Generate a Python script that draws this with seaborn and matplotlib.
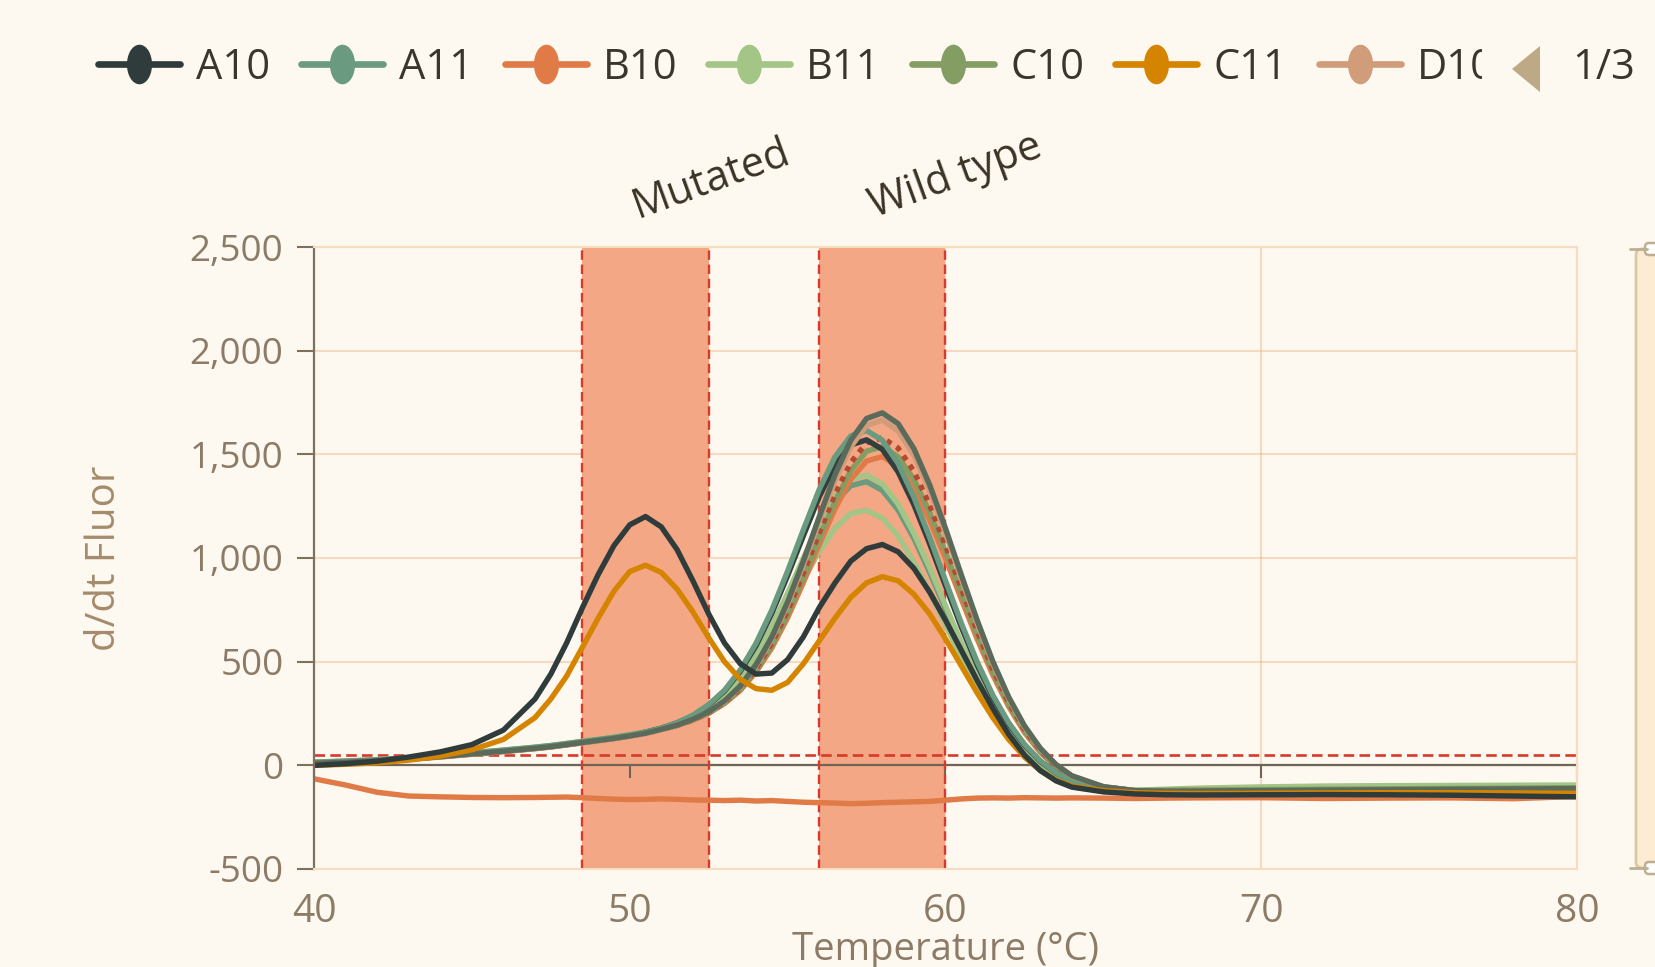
import matplotlib
matplotlib.use("Agg")
import matplotlib.pyplot as plt
import seaborn as sns
from matplotlib.lines import Line2D
from matplotlib.path import Path
from matplotlib.transforms import Affine2D, Bbox, IdentityTransform
from matplotlib.patches import FancyBboxPatch, Polygon
from matplotlib.ticker import FuncFormatter

# ---------------- data ----------------
temperature = [40, 41, 42, 43, 44, 45, 46, 47, 47.5, 48, 48.5, 49, 49.5, 50, 50.5, 51, 51.5,
               52, 52.5, 53, 53.5, 54, 54.5, 55, 55.5, 56, 56.5, 57, 57.5, 58, 58.5, 59, 59.5,
               60, 60.5, 61, 61.5, 62, 62.5, 63, 63.5, 64, 65, 66, 67, 68, 70, 72, 74, 76, 78, 80]

A10 = [0, 8, 20, 40, 65, 100, 170, 320,
       440, 590, 760, 920, 1060, 1160, 1200, 1150, 1040, 890, 730, 590, 490, 440, 445, 510, 620,
       760, 880, 985, 1045, 1065, 1030, 950, 835, 700, 555, 410, 275, 150, 50, -25, -75, -105,
       -128, -138, -142, -143, -142, -141, -142, -144, -148, -152]
C11 = [0, 5, 12, 25, 45, 75, 125, 230,
       320, 430, 570, 710, 840, 935, 965, 930, 850, 740, 615, 500, 415, 370, 362, 400, 490,
       600, 710, 810, 880, 910, 890, 825, 730, 610, 480, 350, 230, 125, 40, -25, -70, -100,
       -122, -132, -135, -136, -135, -133, -132, -132, -133, -135]
B10 = [-65, -95, -130, -148, -152, -155, -156, -155, -154, -153, -156, -160, -163, -165, -164,
       -162, -164, -167, -168, -170, -168, -172, -170, -174, -178, -180, -182, -185, -183, -180,
       -178, -176, -174, -168, -162, -158, -157, -158, -156, -157, -158, -157, -158, -160, -158,
       -157, -156, -160, -158, -157, -161, -150]
D10 = [8, 14, 21, 29, 40, 53, 66, 80, 88, 98, 108, 118, 128, 140, 153,
       174, 194, 221, 257, 308, 379, 479, 610, 775, 969, 1175, 1373, 1536, 1639, 1665,
       1613, 1495, 1324, 1119, 900, 686, 490, 322, 185, 80, 2, -52, -103, -122,
       -126, -125, -124, -122, -120, -118, -116, -114]
C10 = [12, 17, 24, 32, 44, 57, 70, 84, 92, 102, 112, 122, 132, 144, 157,
       173, 193, 219, 253, 301, 366, 458, 578, 729, 906, 1094, 1274, 1422, 1515, 1537,
       1488, 1379, 1220, 1031, 829, 631, 450, 294, 167, 68, -6, -56, -105, -122,
       -120, -119, -117, -115, -113, -111, -110, -108]
A11 = [15, 20, 27, 35, 47, 60, 73, 87, 95, 105, 115, 125, 135, 147,
       161, 179, 206, 241, 293, 362, 460, 589, 749, 937, 1137, 1330, 1488, 1589, 1615,
       1568, 1456, 1293, 1099, 891, 686, 500, 338, 206, 102, 22, -36, -75, -115,
       -125, -126, -125, -123, -121, -119, -117, -115, -113]
B11 = [14, 19, 26, 34, 46, 59, 72, 86, 94, 104, 114, 124, 134, 146,
       160, 177, 202, 234, 280, 341, 425, 535, 672, 831, 1000, 1163, 1296, 1380, 1400,
       1358, 1260, 1119, 952, 771, 594, 432, 291, 174, 81, 10, -43, -79, -116,
       -122, -118, -115, -110, -107, -105, -104, -103, -102]
# series from the other legend pages
D11 = [10, 15, 22, 30, 42, 55, 68, 82, 90, 100, 110, 120, 130, 142, 155,
       174, 194, 222, 258, 311, 382, 485, 619, 788, 986, 1198, 1401, 1568, 1673, 1700,
       1648, 1527, 1352, 1143, 919, 701, 501, 330, 191, 83, 4, -50, -103, -122,
       -125, -124, -122, -120, -118, -116, -114, -112]
E10 = [10, 15, 22, 30, 42, 55, 68, 82, 90, 100, 110, 120, 130, 142,
       160, 179, 205, 239, 290, 358, 453, 577, 733, 915, 1108, 1295, 1448, 1545, 1570,
       1524, 1415, 1257, 1068, 866, 667, 485, 328, 199, 97, 19, -37, -76, -115,
       -126, -130, -132, -133, -134, -135, -137, -139, -141]
E11 = [9, 14, 21, 29, 41, 54, 67, 81, 89, 99, 109, 119, 129, 141, 154,
       173, 192, 218, 251, 298, 361, 450, 566, 712, 882, 1064, 1237, 1379, 1468, 1489,
       1441, 1335, 1182, 998, 802, 610, 435, 284, 159, 63, -9, -57, -105, -122,
       -128, -130, -130, -131, -132, -133, -134, -135]
F10 = [11, 16, 23, 31, 43, 56, 69, 83, 91, 101, 111, 121, 131, 143, 156,
       174, 193, 219, 254, 303, 370, 465, 589, 745, 927, 1121, 1308, 1460, 1556, 1580,
       1530, 1418, 1255, 1060, 853, 649, 463, 304, 173, 72, -3, -54, -104, -122,
       -124, -124, -123, -121, -119, -118, -117, -116]
F11 = [13, 18, 25, 33, 45, 58, 71, 85, 93, 103, 113, 123, 133, 145,
       160, 177, 202, 233, 278, 337, 420, 527, 660, 815, 980, 1139, 1268, 1349, 1368,
       1326, 1231, 1094, 930, 754, 580, 422, 284, 169, 78, 8, -44, -79, -116,
       -124, -127, -128, -128, -127, -126, -126, -127, -128]
G10 = [16, 21, 28, 36, 48, 61, 74, 88, 96, 106, 116, 126, 136, 148,
       159, 176, 199, 228, 270, 324, 397, 493, 610, 747, 893, 1032, 1144, 1215, 1230,
       1192, 1106, 982, 835, 677, 521, 379, 253, 149, 65, 0, -49, -82, -116,
       -120, -115, -110, -104, -100, -98, -97, -96, -95]

legend_names = ["A10", "A11", "B10", "B11", "C10", "C11", "D10"]
series = {"A10": A10, "A11": A11, "B10": B10, "B11": B11, "C10": C10, "C11": C11,
          "D10": D10, "D11": D11, "E10": E10, "E11": E11, "F10": F10, "F11": F11, "G10": G10}
colors = {"A10": "#2F3C3B", "A11": "#6A9A80", "B10": "#E07B48", "B11": "#A3C586",
          "C10": "#839D63", "C11": "#D58400", "D10": "#D09C7A", "D11": "#5A6B5C",
          "E10": "#333F3F", "E11": "#E07B48", "F10": "#B34A30", "F11": "#6A9A80",
          "G10": "#A3C586"}
dotted = {"F10"}
draw_order = ["B10", "G10", "F11", "B11", "E11", "C10", "F10", "E10", "A11", "D10", "D11",
              "C11", "A10"]

regions = [(48.5, 52.5), (56.0, 60.0)]
region_labels = ["Mutated", "Wild type"]
threshold = 50
x_ticks = [40, 50, 60, 70, 80]
y_ticks = [-500, 0, 500, 1000, 1500, 2000, 2500]

# ---------------- style ----------------
sns.set_theme(style="white")
plt.rcParams["font.family"] = ["Open Sans", "DejaVu Sans"]
plt.rcParams["axes.unicode_minus"] = False

BG = "#FEF9F0"
TXT = "#8C7B66"
W, H = 1656, 967
L, R, T, B = 314, 1577, 247, 869

fig = plt.figure(figsize=(W / 100, H / 100), dpi=100, facecolor=BG)
ax = fig.add_axes([L / W, 1 - B / H, (R - L) / W, (B - T) / H])
ax.set_facecolor(BG)

for lo, hi in regions:
    ax.axvspan(lo, hi, color="#F3A785", lw=0, zorder=0.8)
    for xv in (lo, hi):
        ax.axvline(xv, color="#D8392B", lw=1.7, ls=(0, (4, 2)), zorder=1.9)
ax.axhline(threshold, color="#D8392B", lw=1.9, ls=(0, (4, 2)), zorder=1.9)

for i, name in enumerate(draw_order):
    sns.lineplot(x=temperature, y=series[name], ax=ax, color=colors[name],
                 linewidth=3.9, linestyle=(0, (1, 1.1)) if name in dotted else "-",
                 solid_joinstyle="round", zorder=2 + i * 0.01)

ax.set_xlim(40, 80)
ax.set_ylim(-500, 2500)
ax.set_xticks(x_ticks)
ax.set_yticks(y_ticks)
ax.yaxis.set_major_formatter(FuncFormatter(lambda v, p: f"{int(v):,}"))
ax.grid(True, color="#E9A06A", alpha=0.35, lw=1.5)

for s in ("top", "right", "bottom"):
    ax.spines[s].set_color("#F7DCC0")
    ax.spines[s].set_linewidth(1.5)
ax.spines["left"].set_color("#7D705F")
ax.spines["left"].set_linewidth(1.6)

ax.tick_params(axis="x", length=0, pad=17, labelsize=28, labelcolor=TXT)
ax.tick_params(axis="y", length=12, width=1.5, color="#7D705F", pad=10,
               labelsize=26.5, labelcolor=TXT, left=True)

sec = ax.secondary_xaxis(500 / 3000)
sec.set_xticks(x_ticks)
sec.tick_params(length=9, width=1.5, color="#6E6558", labelbottom=False)
sec.spines["bottom"].set_color("#6E6558")
sec.spines["bottom"].set_linewidth(1.6)
sec.patch.set_visible(False)
sec.set_zorder(1.6)

ax.set_xlabel("Temperature (°C)", fontsize=27.5, color=TXT)
ax.xaxis.set_label_coords(0.5, -0.10)
ax.set_ylabel("d/dt Fluor", fontsize=29, color="#A58B6C")
ax.yaxis.set_label_coords(-0.150, 0.5)

for (lo, hi), lab in zip(regions, region_labels):
    ax.text((lo + hi) / 2 - 0.25, 1.047, lab, transform=ax.get_xaxis_transform(),
            rotation=20, rotation_mode="anchor", ha="left", va="baseline",
            fontsize=30, color="#3B3326")

# legend (page 1 of 3)
ellipse = Path.unit_circle().transformed(Affine2D().scale(0.62, 1.0))
handles = [Line2D([0], [0], color=colors[n], lw=4.8, marker=ellipse, markersize=27.5,
                  markerfacecolor=colors[n], markeredgecolor=colors[n]) for n in legend_names]
leg = fig.legend(handles, legend_names, loc="center left", bbox_to_anchor=(98 / W, 1 - 68 / H),
                 ncol=7, frameon=False, fontsize=30, handlelength=1.97, handletextpad=0.38,
                 columnspacing=0.75, borderpad=0, borderaxespad=0, labelcolor="#3A362E")
leg.get_texts()[-1].set_clip_box(Bbox([[0, 0], [1482, H]]))
leg.get_texts()[-1].set_clip_on(True)

fig.patches.append(Polygon([[1512, H - 69], [1540, H - 46], [1540, H - 92]], closed=True,
                           transform=IdentityTransform(), facecolor="#BDA985", edgecolor="none"))
fig.text(1572 / W, 1 - 68 / H, "1/3", va="center", ha="left", fontsize=30, color="#3A362E")

# vertical data-zoom slider on the right
fig.patches.append(FancyBboxPatch((1636, H - 868), 40, 619,
                                  boxstyle="round,pad=0,rounding_size=6",
                                  transform=IdentityTransform(), facecolor="#FDEBD2",
                                  edgecolor="#D8C8A8", lw=2))
for yy in (249, 868):
    fig.lines.append(Line2D([1630, 1647], [H - yy, H - yy], color="#BFAF92", lw=2,
                            transform=IdentityTransform()))
    fig.patches.append(FancyBboxPatch((1645, H - yy - 6), 22, 12,
                                      boxstyle="round,pad=0,rounding_size=4",
                                      transform=IdentityTransform(), facecolor="#FFFFFF",
                                      edgecolor="#BFAF92", lw=1.8))

fig.savefig("out.png", dpi=100, facecolor=BG)
